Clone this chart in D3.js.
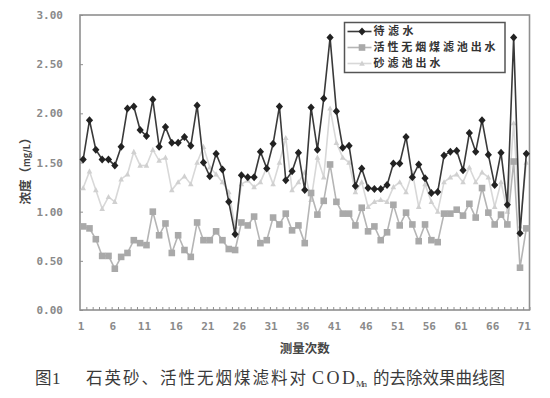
<!DOCTYPE html>
<html>
<head>
<meta charset="utf-8">
<script src="https://cdn.jsdelivr.net/npm/d3@7/dist/d3.min.js"></script>
<style>
	body { margin: 0; background: #fff; }
	svg { display: block; }
</style>
</head>
<body>
<div id="chart"></div>
<script>
// measurement number 1..71
var runs = [1,2,3,4,5,6,7,8,9,10,11,12,13,14,15,16,17,18,19,20,21,22,23,24,25,26,27,28,29,30,
	31,32,33,34,35,36,37,38,39,40,41,42,43,44,45,46,47,48,49,50,51,52,53,54,55,56,57,58,59,60,
	61,62,63,64,65,66,67,68,69,70,71];

// 待滤水
var rawWater = [1.53,1.93,1.63,1.53,1.53,1.47,1.66,2.05,2.07,1.83,1.77,2.14,1.66,1.86,1.70,1.70,1.76,1.67,2.08,1.50,
	1.36,1.59,1.43,1.10,0.77,1.37,1.35,1.35,1.61,1.44,1.69,2.07,1.32,1.41,1.60,1.22,2.06,1.63,2.15,2.77,
	2.02,1.65,1.67,1.26,1.44,1.24,1.23,1.23,1.27,1.49,1.49,1.76,1.35,1.48,1.34,1.19,1.20,1.57,1.61,1.62,
	1.42,1.80,1.61,1.93,1.58,1.27,1.60,1.07,2.77,0.78,1.59];

// 活性无烟煤滤池出水
var anthraciteOut = [0.85,0.83,0.72,0.55,0.55,0.42,0.54,0.58,0.71,0.68,0.66,1.00,0.76,0.88,0.58,0.76,0.61,0.54,0.89,0.71,
	0.71,0.80,0.71,0.62,0.61,0.89,0.86,0.95,0.68,0.71,0.94,0.87,0.98,0.81,0.86,0.68,1.19,0.97,1.11,1.48,
	1.10,0.98,0.98,0.86,1.04,0.80,0.85,0.71,0.79,1.07,0.86,0.99,0.87,0.70,0.87,0.71,0.69,0.98,0.98,1.02,
	0.96,1.08,0.94,1.24,0.99,0.87,0.97,0.87,1.51,0.43,0.83];

// 砂滤池出水
var sandOut = [1.24,1.41,1.22,1.03,1.15,1.10,1.33,1.38,1.61,1.47,1.47,1.63,1.52,1.55,1.22,1.30,1.36,1.28,1.50,1.66,
	1.45,1.38,1.30,1.20,0.85,1.28,1.32,1.25,1.30,1.45,1.28,1.50,1.75,1.22,1.30,1.40,1.12,1.55,1.35,2.05,
	1.70,1.55,1.50,1.20,1.30,1.05,1.10,1.12,1.10,1.25,1.30,1.20,1.40,1.05,1.28,1.10,1.00,1.30,1.35,1.38,
	1.30,1.45,1.30,1.40,1.35,1.05,1.30,1.00,1.90,0.85,1.50];

var seriesNames = ['待滤水', '活性无烟煤滤池出水', '砂滤池出水'];
var yTicks = [0, 0.5, 1, 1.5, 2, 2.5, 3];
var xTicks = [1, 6, 11, 16, 21, 26, 31, 36, 41, 46, 51, 56, 61, 66, 71];

var width = 550, height = 398;
var plot = {left: 80, right: 529.5, top: 15, bottom: 310};
var monoFont = '"DejaVu Sans Mono", "Liberation Mono", monospace';
var cjkFont = '"Noto Sans CJK SC", "Noto Sans", sans-serif';

var svg = d3.select('#chart').append('svg')
	.attr('width', width)
	.attr('height', height);

var x = d3.scaleLinear().domain([0.5, runs.length + 0.5]).range([plot.left, plot.right]);
var y = d3.scaleLinear().domain([0, 3]).range([plot.bottom, plot.top]);

// plot frame
svg.append('rect')
	.attr('x', plot.left)
	.attr('y', plot.top)
	.attr('width', plot.right - plot.left)
	.attr('height', plot.bottom - plot.top)
	.attr('fill', 'none')
	.attr('stroke', '#8f8f8f')
	.attr('stroke-width', 1.6);

// y axis: ticks inside, labels left
var yAxis = d3.axisLeft(y)
	.tickValues(yTicks)
	.tickSize(-3)
	.tickPadding(17)
	.tickFormat(d3.format('.2f'));
var gy = svg.append('g')
	.attr('transform', 'translate(' + plot.left + ',0)')
	.call(yAxis);
gy.select('.domain').remove();
gy.selectAll('line').attr('stroke', '#8f8f8f');
gy.selectAll('text')
	.attr('font-family', monoFont)
	.attr('font-size', 11)
	.attr('font-weight', 'bold')
	.attr('fill', '#8a8a8a');

// x axis: small tick at every category boundary
var boundaries = runs.map(function(d) { return d + 0.5; });
var xTickAxis = d3.axisBottom(x)
	.tickValues(boundaries)
	.tickSize(-3)
	.tickFormat('');
var gxt = svg.append('g')
	.attr('transform', 'translate(0,' + plot.bottom + ')')
	.call(xTickAxis);
gxt.select('.domain').remove();
gxt.selectAll('line').attr('stroke', '#8f8f8f');

var xAxis = d3.axisBottom(x)
	.tickValues(xTicks)
	.tickSize(0)
	.tickPadding(12);
var gx = svg.append('g')
	.attr('transform', 'translate(-2.5,' + plot.bottom + ')')
	.call(xAxis);
gx.select('.domain').remove();
gx.selectAll('text')
	.attr('font-family', monoFont)
	.attr('font-size', 11)
	.attr('font-weight', 'bold')
	.attr('fill', '#8a8a8a');

// axis titles
svg.append('text')
	.attr('x', (plot.left + plot.right) / 2)
	.attr('y', 353)
	.attr('text-anchor', 'middle')
	.attr('font-family', cjkFont)
	.attr('font-size', 12.5)
	.attr('font-weight', 'bold')
	.attr('fill', '#444')
	.text('测量次数');

var yTitle = svg.append('text')
	.attr('transform', 'translate(30,168) rotate(-90)')
	.attr('text-anchor', 'middle')
	.attr('font-family', cjkFont)
	.attr('font-size', 12.5)
	.attr('font-weight', 'bold')
	.attr('fill', '#444');
yTitle.append('tspan').text('浓度（');
yTitle.append('tspan').attr('font-size', 9).text('mg/L');
yTitle.append('tspan').text('）');

// series
var series = [
	{name: seriesNames[2], values: sandOut, line: '#d8d8d8', fill: '#d0d0d0', shape: 'triangle', len: 67},
	{name: seriesNames[1], values: anthraciteOut, line: '#b5b5b5', fill: '#a9a9a9', shape: 'square', len: 122},
	{name: seriesNames[0], values: rawWater, line: '#3a3a3a', fill: '#222', shape: 'diamond', len: 40}
];

function markerPath(shape) {
	if(shape == 'diamond')
		return 'M0,-4L3.6,0L0,4L-3.6,0Z';
	if(shape == 'square')
		return 'M-3.3,-3.3H3.3V3.3H-3.3Z';
	return 'M0,-3L2.8,2.2H-2.8Z';
}

var line = d3.line()
	.x(function(d, i) { return x(runs[i]); })
	.y(function(d) { return y(d); });

var gSeries = svg.append('g').attr('class', 'series');
series.forEach(function(s) {
	var g = gSeries.append('g');
	g.append('path')
		.attr('d', line(s.values))
		.attr('fill', 'none')
		.attr('stroke', s.line)
		.attr('stroke-width', 1.6);
	g.selectAll('.marker')
		.data(s.values)
		.enter().append('path')
		.attr('class', 'marker')
		.attr('transform', function(d, i) { return 'translate(' + x(runs[i]) + ',' + y(d) + ')'; })
		.attr('d', markerPath(s.shape))
		.attr('fill', s.fill);
});

// legend
var rowStep = 16;
var legend = svg.append('g').attr('transform', 'translate(344.5,22.5)');
legend.append('rect')
	.attr('width', 160.5)
	.attr('height', 50)
	.attr('fill', '#fff')
	.attr('stroke', '#555')
	.attr('stroke-width', 1.5);

var legendItems = series.slice().reverse();
legendItems.forEach(function(s, i) {
	var ly = 9 + i * rowStep;
	legend.append('line')
		.attr('x1', 3).attr('x2', 27)
		.attr('y1', ly).attr('y2', ly)
		.attr('stroke', s.line)
		.attr('stroke-width', 1.6);
	legend.append('path')
		.attr('transform', 'translate(17.5,' + ly + ')')
		.attr('d', markerPath(s.shape))
		.attr('fill', s.fill);
	legend.append('text')
		.attr('x', 29)
		.attr('y', ly)
		.attr('dy', '0.36em')
		.attr('font-family', cjkFont)
		.attr('font-size', 11)
		.attr('font-weight', 'bold')
		.attr('fill', '#333')
		.attr('textLength', s.len)
		.attr('lengthAdjust', 'spacing')
		.text(s.name);
});

// figure caption, pieces stretched to the spans in the reference
var capFont = '"Noto Sans CJK SC", sans-serif';
var serifFont = '"Liberation Serif", "DejaVu Serif", serif';
function capText(xpos, str, len, size, family, dy) {
	return svg.append('text')
		.attr('x', xpos)
		.attr('y', 384 + (dy || 0))
		.attr('font-family', family || capFont)
		.attr('font-size', size || 16.5)
		.attr('fill', '#3a3a3a')
		.attr('textLength', len)
		.attr('lengthAdjust', 'spacing')
		.text(str);
}
capText(35, '图', 15);
capText(52, '1', 8, 17, serifFont);
capText(86, '石英砂、活性无烟煤滤料对', 220);
capText(312, 'COD', 43, 18, serifFont);
capText(356, 'Mn', 11, 9, serifFont, 3);
capText(373, '的去除效果曲线图', 132);
</script>
</body>
</html>
